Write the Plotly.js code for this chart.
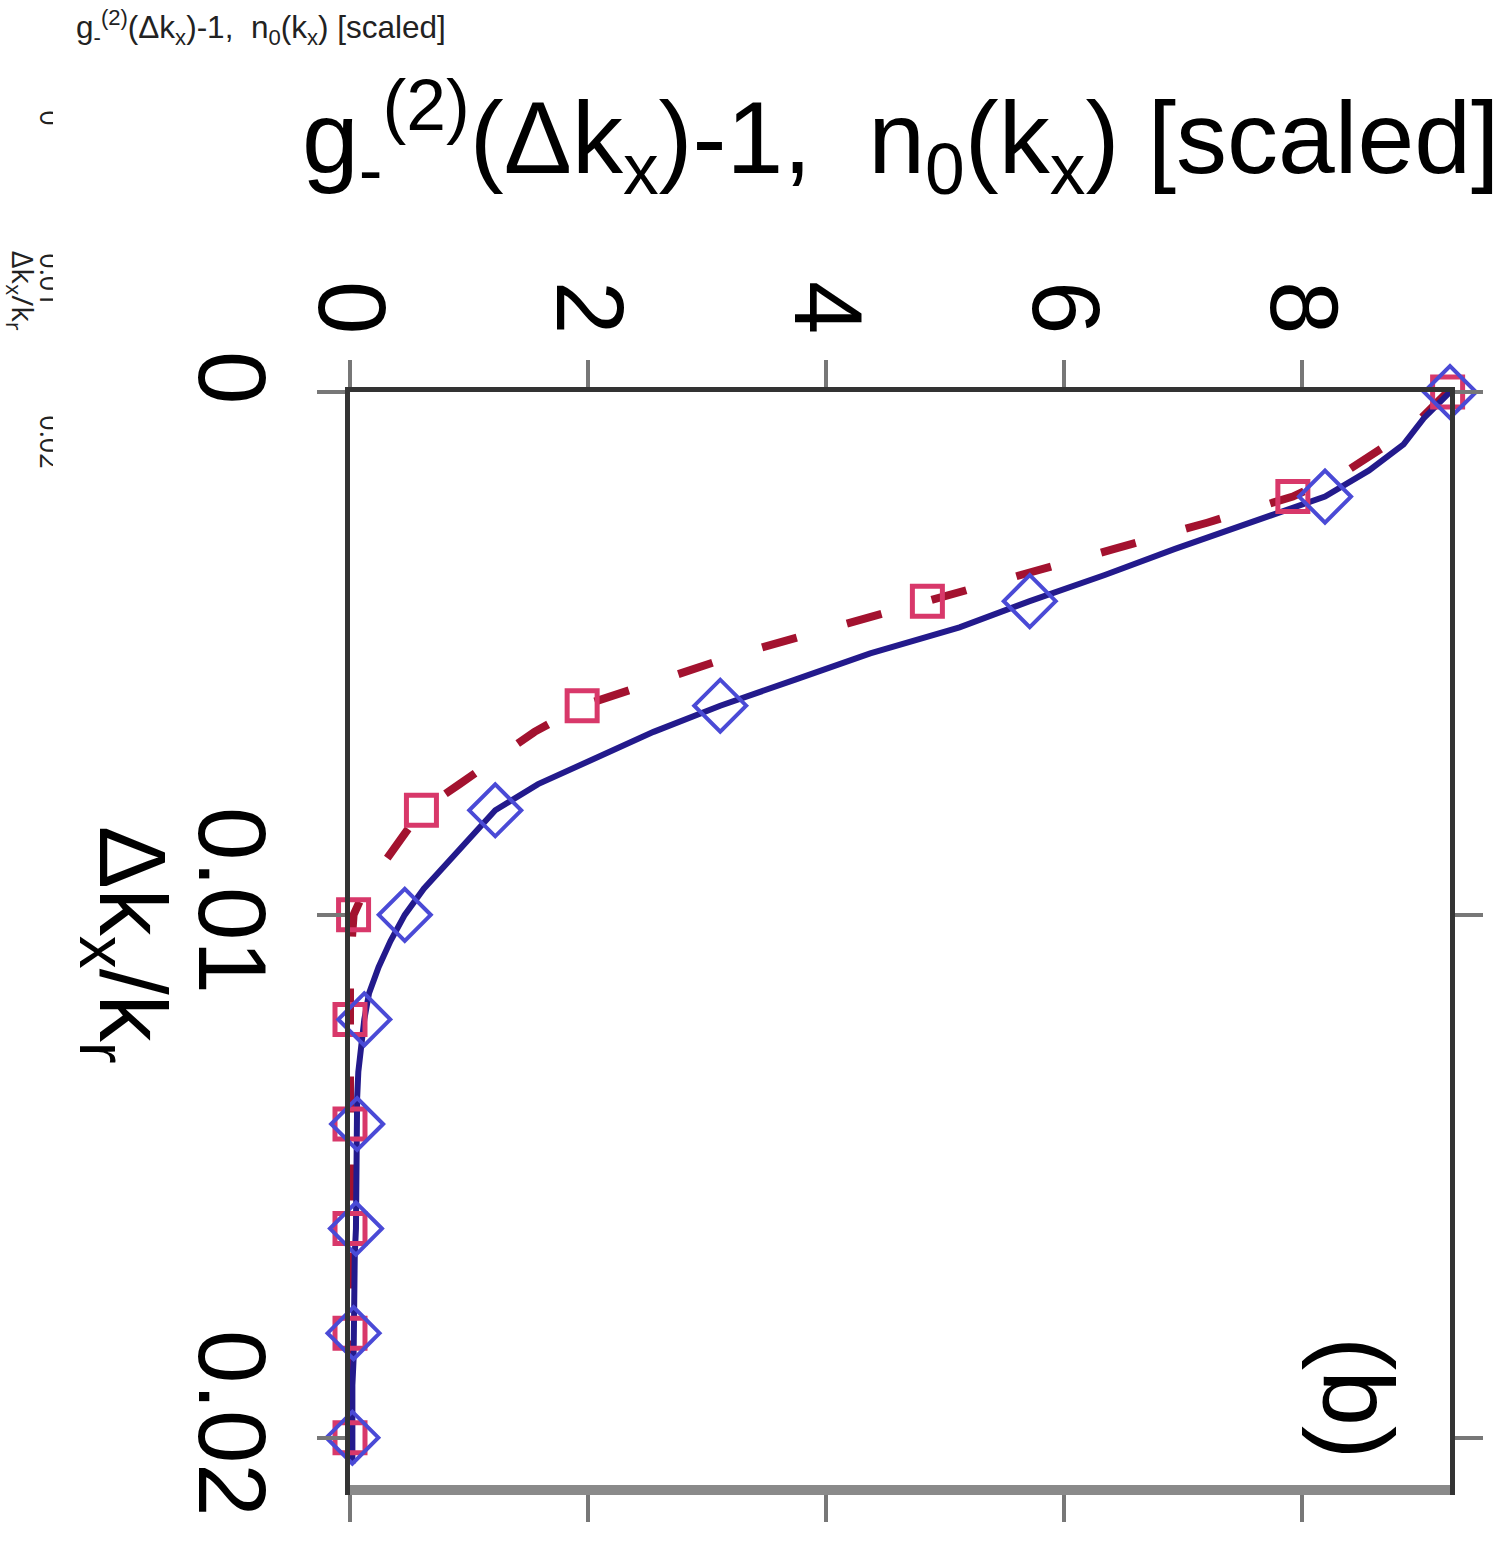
<!DOCTYPE html>
<html>
<head>
<meta charset="utf-8">
<script src="https://cdn.plot.ly/plotly-3.0.1.min.js"></script>
<style>
  html, body { margin: 0; padding: 0; background: #fff; }
  #plot { width: 1508px; height: 1542px; }
</style>
</head>
<body>
<div id="plot"></div>
<script>
// Momentum separation grid, in units of the recoil momentum k_r
const dk = [0, 0.0005, 0.001, 0.0015, 0.002, 0.0025, 0.003, 0.0035, 0.004, 0.0045,
            0.005, 0.0055, 0.006, 0.0065, 0.007, 0.0075, 0.008, 0.0085, 0.009, 0.0095,
            0.01, 0.0105, 0.011, 0.0115, 0.012, 0.0125, 0.013, 0.0135, 0.014, 0.0145,
            0.015, 0.0155, 0.016, 0.0165, 0.017, 0.0175, 0.018, 0.0185, 0.019, 0.0195,
            0.02, 0.0205];

// g_-^(2)(dk_x) - 1  (solid blue)
const g2minus = [9.24, 9.02, 8.85, 8.56, 8.19, 7.56, 6.93, 6.34, 5.71, 5.12,
                 4.37, 3.74, 3.11, 2.55, 2.06, 1.58, 1.22, 1.02, 0.82, 0.62,
                 0.46, 0.34, 0.24, 0.16, 0.12, 0.09, 0.07, 0.06, 0.06, 0.05,
                 0.05, 0.05, 0.05, 0.04, 0.04, 0.03, 0.03, 0.03, 0.02, 0.02,
                 0.02, 0.02];

// n_0(k_x), scaled  (dashed red)
const n0scaled = [9.22, 9.0, 8.72, 8.38, 7.92, 7.2, 6.42, 5.65, 4.85, 4.1,
                  3.28, 2.62, 1.95, 1.55, 1.22, 0.92, 0.6, 0.45, 0.3, 0.13,
                  0.03, 0.01, 0, 0, 0, 0, 0, 0, 0, 0,
                  0, 0, 0, 0, 0, 0, 0, 0, 0, 0,
                  0, 0];

const valueTicks = [0, 2, 4, 6, 8];
const dkTicks = [0, 0.01, 0.02];
const dkTickText = ['0', '0.01', '0.02'];

// symbols are placed on every fourth grid point
const every = (arr) => arr.filter((_, i) => i % 4 === 0);

const W = 1508, H = 1542;
const px = (x) => x / W;
const py = (y) => 1 - y / H;

const traces = [
  { x: n0scaled, y: dk, type: 'scatter', mode: 'lines',
    line: { color: '#a3122f', width: 8, dash: '36px,52px' },
    cliponaxis: false, hoverinfo: 'skip' },
  { x: g2minus, y: dk, type: 'scatter', mode: 'lines',
    line: { color: '#231a8c', width: 6 },
    cliponaxis: false, hoverinfo: 'skip' },
  { x: every(n0scaled), y: every(dk), type: 'scatter', mode: 'markers',
    marker: { symbol: 'square-open', size: 30, color: '#d8386a', line: { width: 5, color: '#d8386a' } },
    cliponaxis: false, hoverinfo: 'skip' },
  { x: every(g2minus), y: every(dk), type: 'scatter', mode: 'markers',
    marker: { symbol: 'diamond-open', size: 40, color: '#4a4ad6', line: { width: 4, color: '#4a4ad6' } },
    cliponaxis: false, hoverinfo: 'skip' },
  { x: [], y: [], xaxis: 'x2', yaxis: 'y2', type: 'scatter', hoverinfo: 'skip' }
];

const bigTickFont = { family: 'Arial, "Liberation Sans", sans-serif', size: 96, color: '#000' };

const layout = {
  width: W, height: H,
  margin: { l: 0, r: 0, t: 0, b: 0 },
  paper_bgcolor: '#fff', plot_bgcolor: '#fff',
  showlegend: false,
  xaxis: {
    domain: [px(350), px(1450)], anchor: 'y', side: 'top',
    range: [0, 9.24], tickvals: valueTicks, ticktext: valueTicks.map(String),
    tickangle: 90, tickfont: bigTickFont,
    ticks: 'outside', ticklen: 27, tickwidth: 4, tickcolor: '#777',
    showline: true, linecolor: '#333', linewidth: 5, mirror: 'ticks',
    showgrid: false, zeroline: false, automargin: false, ticklabelstandoff: -8
  },
  yaxis: {
    domain: [py(1490), py(392)], anchor: 'x',
    range: [0.021, 0], tickvals: dkTicks, ticktext: dkTickText,
    tickangle: 90, tickfont: bigTickFont,
    ticks: 'outside', ticklen: 28, tickwidth: 4, tickcolor: '#777',
    showline: true, linecolor: '#333', linewidth: 5, mirror: 'ticks',
    showgrid: false, zeroline: false, automargin: false, ticklabelstandoff: 3
  },
  xaxis2: { domain: [px(68), px(180)], anchor: 'y2', visible: false, range: [0, 1] },
  yaxis2: {
    domain: [py(480), py(100)], anchor: 'x2',
    range: [0.0221, -0.001358], tickvals: dkTicks, ticktext: dkTickText,
    tickangle: 90, tickfont: { family: '"Open Sans", sans-serif', size: 27, color: '#222' },
    ticks: '', showline: false, showgrid: false, zeroline: false, automargin: false
  },
  shapes: [
    // grey lower frame edge
    { type: 'line', xref: 'x domain', yref: 'y domain', x0: 0, x1: 1, y0: 0, y1: 0,
      line: { color: '#8a8a8a', width: 10 }, layer: 'above' },
    // mask over the small axis labels
    { type: 'rect', xref: 'paper', yref: 'paper', x0: px(53), x1: px(150), y0: py(490), y1: py(60),
      fillcolor: '#fff', line: { width: 0 }, layer: 'above' }
  ],
  annotations: [
    { text: 'g<sub>-</sub><sup>(2)</sup>(Δk<sub>x</sub>)-1,  n<sub>0</sub>(k<sub>x</sub>) [scaled]',
      xref: 'paper', yref: 'paper', x: px(74), y: py(3), xanchor: 'left', yanchor: 'top',
      showarrow: false, font: { family: 'Arial, "Liberation Sans", sans-serif', size: 31.5, color: '#222' } },
    { text: 'Δk<sub>x</sub>/k<sub>r</sub>', textangle: 90,
      xref: 'paper', yref: 'paper', x: px(22), y: py(291), xanchor: 'center', yanchor: 'middle',
      showarrow: false, font: { family: '"Open Sans", sans-serif', size: 30, color: '#222' } },
    { text: 'g<sub>-</sub><sup>(2)</sup>(Δk<sub>x</sub>)-1,  n<sub>0</sub>(k<sub>x</sub>) [scaled]',
      xref: 'paper', yref: 'paper', x: px(900), y: py(137), xanchor: 'center', yanchor: 'middle',
      showarrow: false, font: { family: 'Arial, "Liberation Sans", sans-serif', size: 102, color: '#000' } },
    { text: 'Δk<sub>x</sub>/k<sub>r</sub>', textangle: 90,
      xref: 'paper', yref: 'paper', x: px(126), y: py(945), xanchor: 'center', yanchor: 'middle',
      showarrow: false, font: { family: 'Arial, "Liberation Sans", sans-serif', size: 94, color: '#000' } },
    { text: '(b)', textangle: 90,
      xref: 'paper', yref: 'paper', x: px(1358), y: py(1398), xanchor: 'center', yanchor: 'middle',
      showarrow: false, font: { family: 'Arial, "Liberation Sans", sans-serif', size: 100, color: '#000' } }
  ]
};

Plotly.newPlot('plot', traces, layout, { staticPlot: true, displayModeBar: false });
</script>
</body>
</html>
